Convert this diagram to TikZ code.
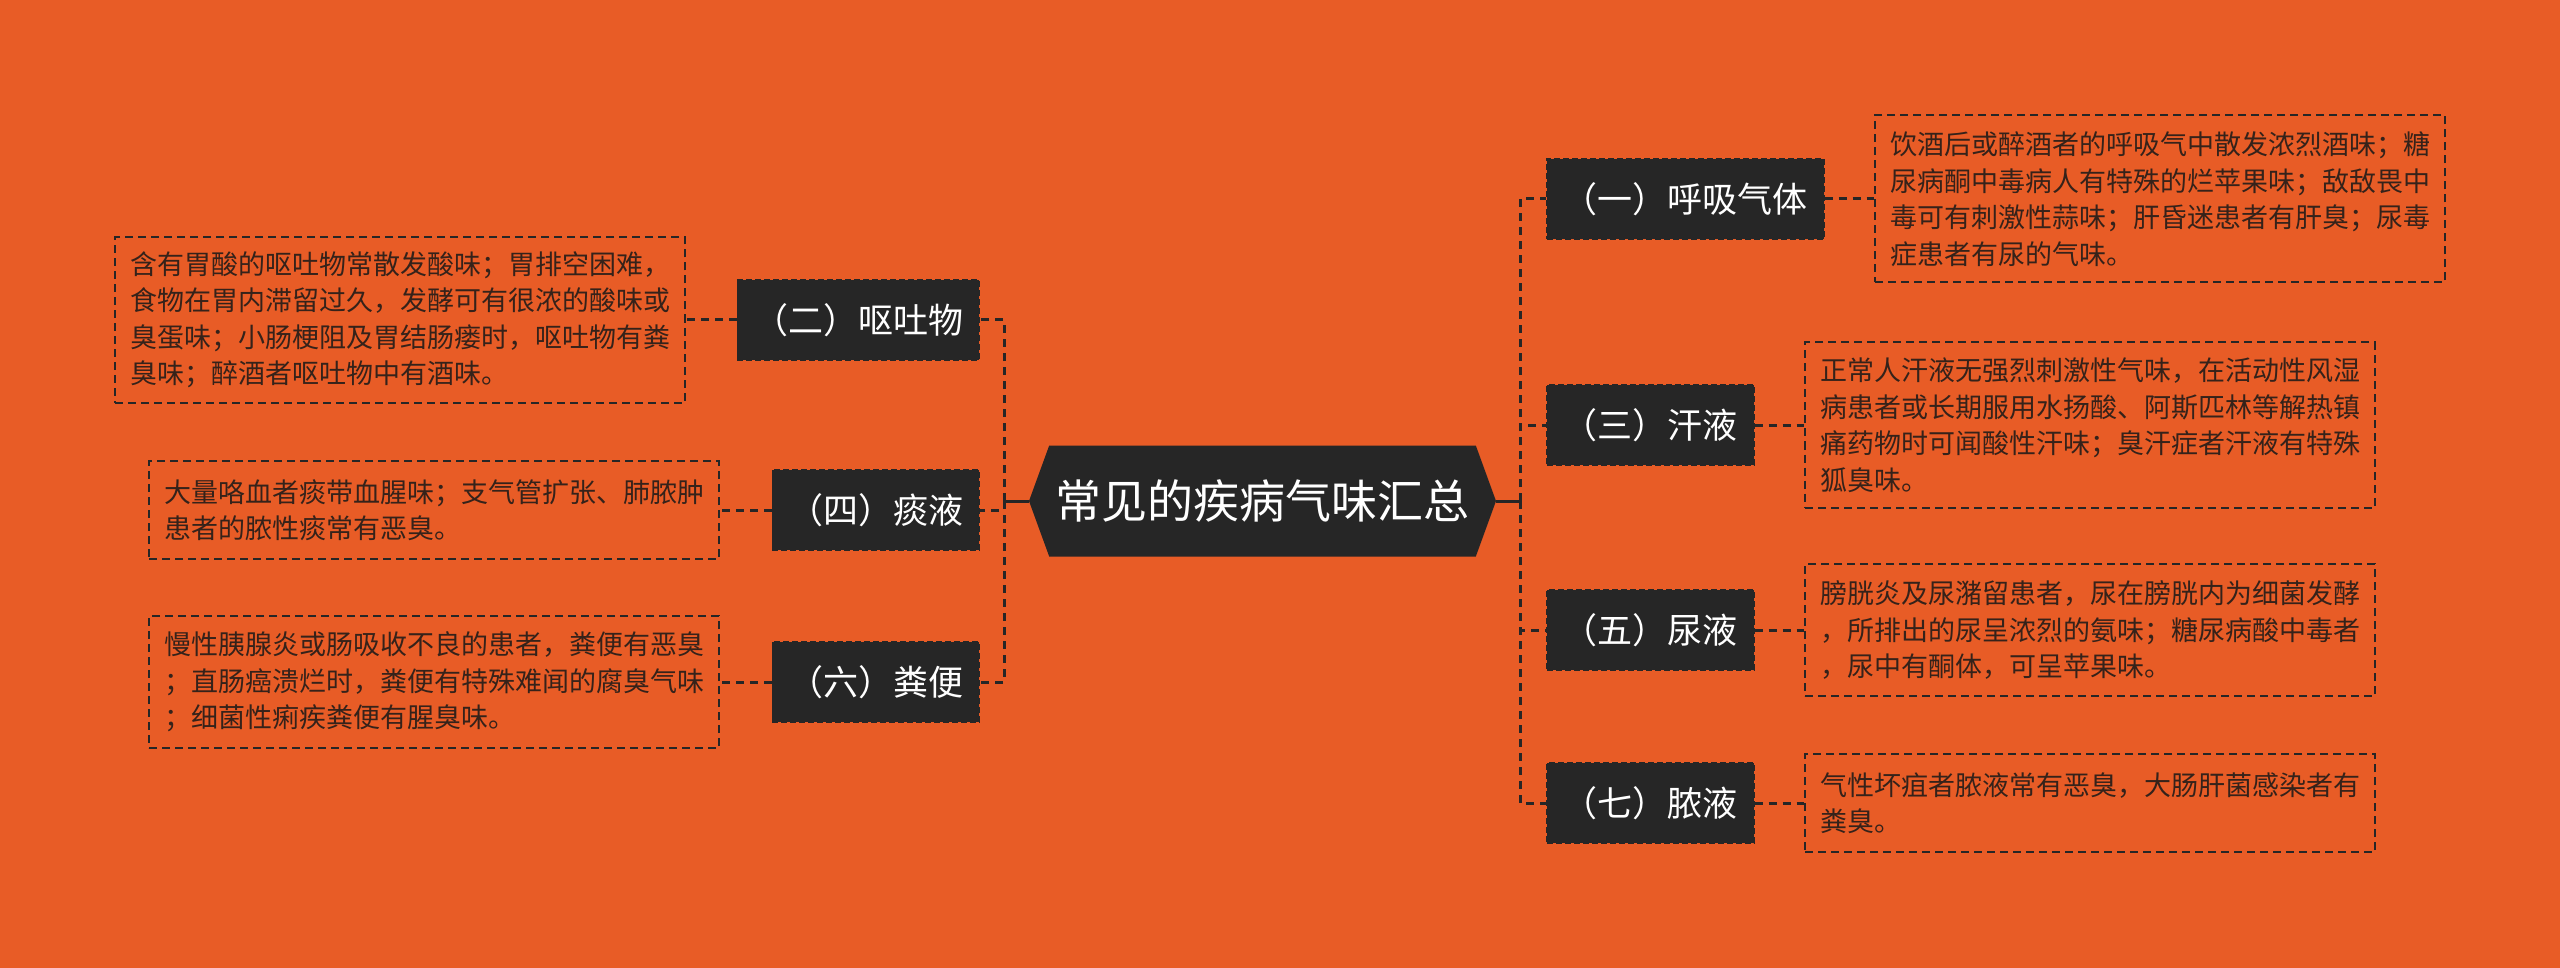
\documentclass[tikz,border=0pt]{standalone}
\usepackage{fontspec}
\setmainfont{Noto Sans CJK SC}
\usetikzlibrary{shapes.symbols}
\definecolor{bgc}{HTML}{E85C26}
\definecolor{darkc}{HTML}{262626}
\definecolor{txtc}{HTML}{35221A}
\begin{document}
\begin{tikzpicture}[x=1pt,y=-1pt,
  rootnode/.style={signal, signal to=west and east, signal pointer angle=140,
    fill=darkc, text=white, font=\fontsize{46pt}{55pt}\selectfont,
    minimum width=467pt, minimum height=111pt, inner sep=0pt},
  branch/.style={fill=darkc, draw=darkc, line width=1.5pt, dash pattern=on 6pt off 3pt,
    text=white, font=\fontsize{35pt}{42pt}\selectfont,
    minimum height=80pt, inner xsep=16pt, inner ysep=0pt},
  leaf/.style={draw=darkc, line width=2pt, dash pattern=on 8pt off 5pt,
    text=txtc, font=\fontsize{27pt}{36.5pt}\selectfont,
    text width=540pt, inner xsep=15pt, inner ysep=0pt, align=left},
  trunk/.style={draw=darkc, line width=3pt},
  link/.style={draw=darkc, line width=3pt, dash pattern=on 8pt off 6pt},
]
\fill[bgc] (0,0) rectangle (2560,968);
\useasboundingbox (0,0) rectangle (2560,968);

% root
\node[rootnode] (root) at (1262.5,501) {常见的疾病气味汇总};

% branches
\node[branch, anchor=west] (b1) at (1546,199) {（一）呼吸气体};
\node[branch, anchor=west] (b3) at (1546,425) {（三）汗液};
\node[branch, anchor=west] (b5) at (1546,630) {（五）尿液};
\node[branch, anchor=west] (b7) at (1546,803) {（七）脓液};
\node[branch, anchor=east] (b2) at (980,320) {（二）呕吐物};
\node[branch, anchor=east] (b4) at (980,510) {（四）痰液};
\node[branch, anchor=east] (b6) at (980,682) {（六）粪便};

% leaves
\node[leaf, anchor=west, minimum height=167pt] (t1) at (1874,199) {饮酒后或醉酒者的呼吸气中散发浓烈酒味；糖\\尿病酮中毒病人有特殊的烂苹果味；敌敌畏中\\毒可有刺激性蒜味；肝昏迷患者有肝臭；尿毒\\症患者有尿的气味。};
\node[leaf, anchor=west, minimum height=165pt] (t3) at (1804,425) {正常人汗液无强烈刺激性气味，在活动性风湿\\病患者或长期服用水扬酸、阿斯匹林等解热镇\\痛药物时可闻酸性汗味；臭汗症者汗液有特殊\\狐臭味。};
\node[leaf, anchor=west, minimum height=132pt] (t5) at (1804,630) {膀胱炎及尿潴留患者，尿在膀胱内为细菌发酵\\，所排出的尿呈浓烈的氨味；糖尿病酸中毒者\\，尿中有酮体，可呈苹果味。};
\node[leaf, anchor=west, minimum height=98pt] (t7) at (1804,803) {气性坏疽者脓液常有恶臭，大肠肝菌感染者有\\粪臭。};
\node[leaf, anchor=east, minimum height=165pt] (t2) at (686,320) {含有胃酸的呕吐物常散发酸味；胃排空困难，\\食物在胃内滞留过久，发酵可有很浓的酸味或\\臭蛋味；小肠梗阻及胃结肠瘘时，呕吐物有粪\\臭味；醉酒者呕吐物中有酒味。};
\node[leaf, anchor=east, minimum height=98pt] (t4) at (720,510) {大量咯血者痰带血腥味；支气管扩张、肺脓肿\\患者的脓性痰常有恶臭。};
\node[leaf, anchor=east, minimum height=132pt] (t6) at (720,682) {慢性胰腺炎或肠吸收不良的患者，粪便有恶臭\\；直肠癌溃烂时，粪便有特殊难闻的腐臭气味\\；细菌性痢疾粪便有腥臭味。};

% junctions
\coordinate (jl) at (1004,501);
\coordinate (jr) at (1520,501);
\draw[trunk] (root.west) -- (jl);
\draw[trunk] (root.east) -- (jr);

\draw[link] (jr) |- (b1.west);
\draw[link] (jr) |- (b3.west);
\draw[link] (jr) |- (b5.west);
\draw[link] (jr) |- (b7.west);
\draw[link] (jl) |- (b2.east);
\draw[link] (jl) |- (b4.east);
\draw[link] (jl) |- (b6.east);

\draw[link] (b1.east) -- (t1.west);
\draw[link] (b3.east) -- (t3.west);
\draw[link] (b5.east) -- (t5.west);
\draw[link] (b7.east) -- (t7.west);
\draw[link] (b2.west) -- (t2.east);
\draw[link] (b4.west) -- (t4.east);
\draw[link] (b6.west) -- (t6.east);
\end{tikzpicture}
\end{document}
